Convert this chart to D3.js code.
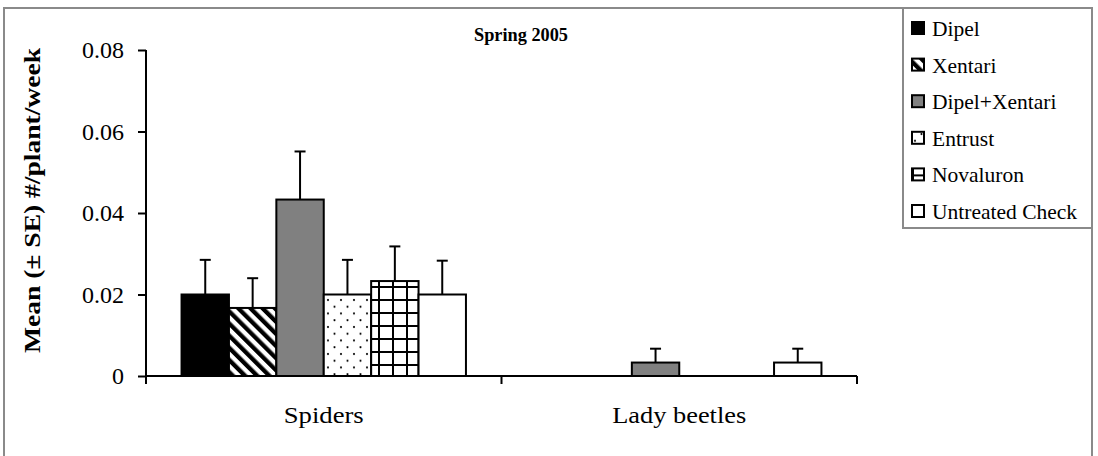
<!DOCTYPE html>
<html>
<head>
<meta charset="utf-8">
<script src="https://cdn.jsdelivr.net/npm/d3@7"></script>
<style>
  body { margin: 0; background: #fff; }
  svg { display: block; }
</style>
</head>
<body>
<div id="chart"></div>
<script>
// data
var categories = ["Spiders", "Lady beetles"];
var treatments = ["Dipel", "Xentari", "Dipel+Xentari", "Entrust", "Novaluron", "Untreated Check"];
var spiderMeans = [0.0200, 0.0167, 0.0433, 0.0200, 0.0233, 0.0200];
var spiderSE    = [0.0085, 0.0073, 0.0118, 0.0085, 0.0085, 0.0083];
var beetleMeans = [0, 0, 0.0033, 0, 0, 0.0033];
var beetleSE    = [0, 0, 0.0034, 0, 0, 0.0034];
var yTicks = [0, 0.02, 0.04, 0.06, 0.08];
var fills = ["#000", "url(#stripes)", "#808080", "url(#dots)", "url(#grid)", "#fff"];

var FONT = "'Liberation Serif', 'Times New Roman', serif";
var W = 1098, H = 456;
var margin = {top: 50, right: 241, bottom: 80, left: 146};

var svg = d3.select("#chart").append("svg").attr("width", W).attr("height", H);

// patterns
var defs = svg.append("defs");
var st = defs.append("pattern").attr("id", "stripes").attr("patternUnits", "userSpaceOnUse")
    .attr("width", 8.6).attr("height", 8.6).attr("patternTransform", "rotate(-45)");
st.append("rect").attr("width", 8.6).attr("height", 8.6).attr("fill", "#fff");
st.append("rect").attr("width", 4.3).attr("height", 8.6).attr("fill", "#000");

var dt = defs.append("pattern").attr("id", "dots").attr("patternUnits", "userSpaceOnUse")
    .attr("width", 13).attr("height", 13.5);
dt.append("rect").attr("width", 13).attr("height", 13.5).attr("fill", "#fff");
dt.append("circle").attr("cx", 3).attr("cy", 3).attr("r", 1.1).attr("fill", "#000");
dt.append("circle").attr("cx", 9.5).attr("cy", 9.75).attr("r", 1.1).attr("fill", "#000");

var gr = defs.append("pattern").attr("id", "grid").attr("patternUnits", "userSpaceOnUse")
    .attr("width", 14).attr("height", 13);
gr.append("rect").attr("width", 14).attr("height", 13).attr("fill", "#fff");
gr.append("rect").attr("x", 0).attr("width", 2).attr("height", 13).attr("fill", "#000");
gr.append("rect").attr("y", 0).attr("width", 14).attr("height", 2).attr("fill", "#000");

// outer frame
svg.append("rect").attr("x", 4).attr("y", 8).attr("width", 1088).attr("height", 460)
    .attr("fill", "none").attr("stroke", "#8a8a8a").attr("stroke-width", 2);

var x0 = d3.scaleBand().domain(categories).range([margin.left, 857]).paddingInner(0).paddingOuter(0);
var x1 = d3.scaleBand().domain(treatments).range([0, x0.bandwidth() * 0.8]);
var y = d3.scaleLinear().domain([0, 0.08]).range([376, 50]);

var rows = [];
categories.forEach(function(c, ci) {
    var m = ci == 0 ? spiderMeans : beetleMeans;
    var s = ci == 0 ? spiderSE : beetleSE;
    treatments.forEach(function(t, ti) {
        rows.push({cat: c, tr: t, i: ti, v: m[ti], se: s[ti]});
    });
});

var plot = svg.append("g");
var offset = x0.bandwidth() * 0.1;

// bars
plot.selectAll("rect.bar").data(rows.filter(function(d){ return d.v > 0; }))
  .enter().append("rect").attr("class", "bar")
    .attr("x", function(d){ return x0(d.cat) + offset + x1(d.tr); })
    .attr("y", function(d){ return y(d.v); })
    .attr("width", x1.bandwidth())
    .attr("height", function(d){ return y(0) - y(d.v); })
    .attr("fill", function(d){ return fills[d.i]; })
    .attr("stroke", "#000").attr("stroke-width", 2);

// error bars (upper only)
var eb = plot.selectAll("g.err").data(rows.filter(function(d){ return d.se > 0; }))
  .enter().append("g").attr("class", "err")
    .attr("transform", function(d){ return "translate(" + (x0(d.cat) + offset + x1(d.tr) + x1.bandwidth() / 2) + ",0)"; });
eb.append("line").attr("x1", 0).attr("x2", 0)
    .attr("y1", function(d){ return y(d.v); })
    .attr("y2", function(d){ return y(d.v + d.se); })
    .attr("stroke", "#000").attr("stroke-width", 2);
eb.append("line").attr("x1", -5.5).attr("x2", 5.5)
    .attr("y1", function(d){ return y(d.v + d.se); })
    .attr("y2", function(d){ return y(d.v + d.se); })
    .attr("stroke", "#000").attr("stroke-width", 2);

// y axis
var yAxis = svg.append("g").attr("transform", "translate(" + margin.left + ",0)")
    .call(d3.axisLeft(y).tickValues(yTicks).tickSize(8).tickPadding(14)
        .tickFormat(function(d){ return d == 0 ? "0" : d3.format(".2f")(d); }));
yAxis.select(".domain").attr("stroke-width", 2).attr("d", "M0," + y(0.08) + "V" + y(0));
yAxis.selectAll(".tick line").attr("stroke-width", 2);
yAxis.selectAll("text").attr("font-size", 24).attr("fill", "#000").style("font-family", FONT);

// x axis
var xAxisG = svg.append("g").attr("transform", "translate(0," + y(0) + ")");
xAxisG.append("line").attr("x1", margin.left).attr("x2", 857)
    .attr("stroke", "#000").attr("stroke-width", 2);
var xt = [margin.left].concat(categories.map(function(c){ return x0(c) + x0.bandwidth(); }));
xAxisG.selectAll("line.tk").data(xt).enter().append("line").attr("class", "tk")
    .attr("x1", function(d){ return d; }).attr("x2", function(d){ return d; })
    .attr("y1", 0).attr("y2", 8).attr("stroke", "#000").attr("stroke-width", 2);
var catW = {"Spiders": 80, "Lady beetles": 134};
xAxisG.selectAll("text").data(categories).enter().append("text")
    .attr("x", function(c){ return x0(c) + x0.bandwidth() / 2 - catW[c] / 2; })
    .attr("y", 47).attr("font-size", 23).style("font-family", FONT)
    .attr("textLength", function(c){ return catW[c]; }).attr("lengthAdjust", "spacingAndGlyphs")
    .text(function(c){ return c; });

// title
svg.append("text").attr("x", 474).attr("y", 41)
    .attr("font-size", 19.5).attr("font-weight", "bold").style("font-family", FONT)
    .attr("textLength", 94).attr("lengthAdjust", "spacingAndGlyphs")
    .text("Spring 2005");

// y label
svg.append("text").attr("transform", "translate(40,353) rotate(-90)")
    .attr("font-size", 24).attr("font-weight", "bold").style("font-family", FONT)
    .attr("textLength", 305).attr("lengthAdjust", "spacingAndGlyphs")
    .text("Mean (\u00b1 SE) #/plant/week");

// legend
var lg = svg.append("g");
lg.append("rect").attr("x", 903).attr("y", 8).attr("width", 189).attr("height", 220)
    .attr("fill", "#fff").attr("stroke", "#8a8a8a").attr("stroke-width", 2);
var li = lg.selectAll("g.li").data(treatments).enter().append("g").attr("class", "li")
    .attr("transform", function(d, i){ return "translate(912," + (28 + i * 36.6) + ")"; });
li.append("rect").attr("x", 0).attr("y", -6).attr("width", 12).attr("height", 12)
    .attr("fill", function(d, i){ return fills[i]; })
    .attr("stroke", "#000").attr("stroke-width", 2);
li.append("text").attr("x", 20).attr("y", 8).attr("font-size", 21.5).style("font-family", FONT)
    .text(function(d){ return d; });
</script>
</body>
</html>
